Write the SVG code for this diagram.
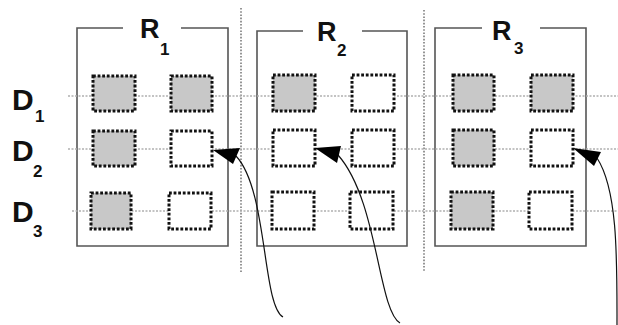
<svg xmlns="http://www.w3.org/2000/svg" width="618" height="325" viewBox="0 0 618 325">
<style>
.box{fill:none;stroke:#555;stroke-width:1.6}
.cell{stroke:#111;stroke-width:3;stroke-dasharray:2.8 1.8}
.on{fill:#c8c8c8}
.off{fill:#fff}
.hl{stroke:#b0b0b0;stroke-width:1.6;stroke-dasharray:2 1.5}
.vl{stroke:#8a8a8a;stroke-width:1.8;stroke-dasharray:1.6 1.6}
.conn{fill:none;stroke:#111;stroke-width:1.2}
.head{fill:#000}
text{font-family:"Liberation Sans",Arial,sans-serif;font-weight:bold;fill:#111}
</style>
<rect width="618" height="325" fill="#fff"/>
<g id="separators">
<line class="vl" x1="241" y1="8" x2="241" y2="273"/>
<line class="vl" x1="424" y1="10" x2="424" y2="272"/>
</g>
<g id="R1">
<path class="box" d="M123 28H77V246H228V28H181"/>
<text x="140" y="38" font-size="27">R</text>
<text x="160" y="55" font-size="17">1</text>
</g>
<g id="R2">
<path class="box" d="M303 31H257V246H407V31H362"/>
<text x="317" y="41" font-size="27">R</text>
<text x="337" y="56" font-size="17">2</text>
</g>
<g id="R3">
<path class="box" d="M482 28H435V246H586V28H540"/>
<text x="492" y="40" font-size="27">R</text>
<text x="514" y="54" font-size="17">3</text>
</g>
<g id="disk-lines">
<line class="hl" x1="68" y1="96" x2="618" y2="96"/>
<line class="hl" x1="68" y1="149" x2="618" y2="149"/>
<line class="hl" x1="72" y1="211" x2="618" y2="211"/>
</g>
<g id="D1"><text x="12" y="110" font-size="30">D</text><text x="35" y="122" font-size="17">1</text></g>
<g id="D2"><text x="12" y="161" font-size="30">D</text><text x="33" y="177" font-size="17">2</text></g>
<g id="D3"><text x="12" y="222" font-size="30">D</text><text x="33" y="237" font-size="17">3</text></g>
<g id="R1-cells">
<rect class="cell on" x="93" y="76" width="42" height="35"/>
<rect class="cell on" x="171" y="76" width="41" height="35"/>
<rect class="cell on" x="93" y="131" width="42" height="35"/>
<rect class="cell off" x="171" y="131" width="41" height="35"/>
<rect class="cell on" x="91" y="193" width="40" height="36"/>
<rect class="cell off" x="169" y="193" width="42" height="36"/>
</g>
<g id="R2-cells">
<rect class="cell on" x="273" y="75" width="42" height="36"/>
<rect class="cell off" x="352" y="75" width="42" height="36"/>
<rect class="cell off" x="273" y="130" width="42" height="36"/>
<rect class="cell off" x="352" y="130" width="42" height="36"/>
<rect class="cell off" x="272" y="192" width="42" height="37"/>
<rect class="cell off" x="350" y="192" width="43" height="37"/>
</g>
<g id="R3-cells">
<rect class="cell on" x="453" y="75" width="41" height="36"/>
<rect class="cell on" x="531" y="75" width="42" height="36"/>
<rect class="cell on" x="453" y="130" width="41" height="36"/>
<rect class="cell off" x="531" y="130" width="42" height="36"/>
<rect class="cell on" x="451" y="192" width="42" height="37"/>
<rect class="cell off" x="529" y="192" width="43" height="37"/>
</g>
<g id="connectors">
<path class="conn" d="M283 317C262 305 268 190 236 156"/>
<polygon class="head" points="213,150 240,148 233,164"/>
<path class="conn" d="M400 323C378 310 378 200 338 155"/>
<polygon class="head" points="315,148 341,146 337,163"/>
<path class="conn" d="M617 325C617 260 618 190 597 158"/>
<polygon class="head" points="573,148 601,152 594,166"/>
</g>
</svg>
